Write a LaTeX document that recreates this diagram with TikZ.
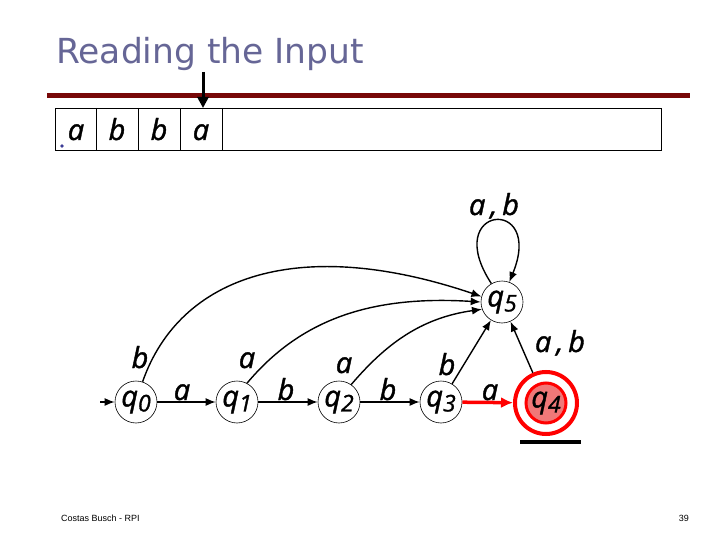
\documentclass[tikz,border=0pt]{standalone}
\usepackage{fontspec}
\setmainfont{DejaVu Sans}
\newfontfamily\titlefont{DejaVu Sans}
\newfontfamily\lblfont[FakeBold=1.3]{Open Sans}
\newfontfamily\footfont{Liberation Sans}
\usetikzlibrary{arrows.meta}
\definecolor{titleblue}{RGB}{102,102,150}
\definecolor{barred}{RGB}{120,8,8}
\definecolor{fillred}{RGB}{240,120,120}
\definecolor{dotblue}{RGB}{60,60,150}
\begin{document}
\begin{tikzpicture}[x=1pt,y=-1pt,
  lf/.style={font=\lblfont\itshape\fontsize{29}{29}\selectfont},
  state/.style={circle,draw,line width=0.6pt,minimum size=42pt,inner sep=0pt,lf},
  lbl/.style={lf,inner sep=0pt,anchor=base},
  edge/.style={-{Latex[length=10pt,width=8pt]},line width=1.4pt},
  tapecell/.style={lf,inner sep=0pt,anchor=base}]
\useasboundingbox (0,0) rectangle (720,540);
% title
\node[anchor=base west,inner sep=0pt,text=titleblue,font=\titlefont\fontsize{34.5}{34.5}\selectfont] (title) at (56,64) {Reading the Input};
% bar
\draw[barred,line width=5pt] (47,96) -- (690,96);
% tape
\draw[line width=0.6pt] (55,108) rectangle (661,150);
\foreach \x in {96,138,180,222} \draw[line width=0.6pt] (\x,108) -- (\x,150);
\node[tapecell] (t1) at (76,140) {a};
\node[tapecell] (t2) at (117,140) {b};
\node[tapecell] (t3) at (159,140) {b};
\node[tapecell] (t4) at (201,140) {a};
\fill[dotblue] (62,146) circle (1.8);
% head arrow
\coordinate (h0) at (203,72);
\coordinate (h1) at (203,108);
\draw[-{Triangle[length=11pt,width=11pt]},line width=3pt] (h0) -- (h1);
% states
\newcommand{\st}[1]{q\raisebox{-5pt}{\fontsize{23}{23}\selectfont #1}}
\node[state] (q0) at (136,402) {\st{0}};
\node[state] (q1) at (237,402) {\st{1}};
\node[state] (q2) at (339,402) {\st{2}};
\node[state] (q3) at (441,402) {\st{3}};
\node[state] (q5) at (502,302) {\st{5}};
\node[circle,draw=red,line width=4pt,minimum size=62pt,inner sep=0pt] (q4) at (546,403) {};
\node[circle,draw=red,fill=fillred,line width=3pt,minimum size=40pt,inner sep=0pt,lf] (q4in) at (546,403) {\st{4}};
% edges
\coordinate (start) at (100,402);
\draw[edge] (start) -- (q0);
\draw[edge] (q0) -- (q1);
\draw[edge] (q1) -- (q2);
\draw[edge] (q2) -- (q3);
\draw[-{Latex[length=12pt,width=11pt]},red,line width=3.5pt] (q3) -- (q4);
\draw[edge] (q0.72) .. controls (180,275) and (300,235) .. (q5.165);
\draw[edge] (q1.62) .. controls (300,320) and (370,295) .. (q5.180);
\draw[edge] (q2.55) .. controls (385,345) and (420,318) .. (q5.200);
\draw[edge] (q3) -- (q5);
\draw[edge] (q4) -- (q5);
\draw[edge] (q5.120) .. controls (440,205) and (545,195) .. (q5.70);
% labels
\node[lbl] (l01) at (182,400) {a};
\node[lbl] (l12) at (286,400) {b};
\node[lbl] (l23) at (388,400) {b};
\node[lbl] (l34) at (490,400) {a};
\node[lbl] (l05) at (140,368) {b};
\node[lbl] (l15) at (247,368) {a};
\node[lbl] (l25) at (344,373) {a};
\node[lbl] (l35) at (447,375) {b};
\node[lbl] (l45) at (560,352) {a\,,\,b};
\node[lbl] (l55) at (494,215) {a\,,\,b};
% underline
\draw[line width=4pt] (520,442) -- (581,442);
% footer
\node[anchor=base west,inner sep=0pt,font=\footfont\fontsize{9}{9}\selectfont] (foot) at (61,521) {Costas Busch - RPI};
\node[anchor=base east,inner sep=0pt,font=\footfont\fontsize{9}{9}\selectfont] (page) at (689,521) {39};
\end{tikzpicture}
\end{document}
